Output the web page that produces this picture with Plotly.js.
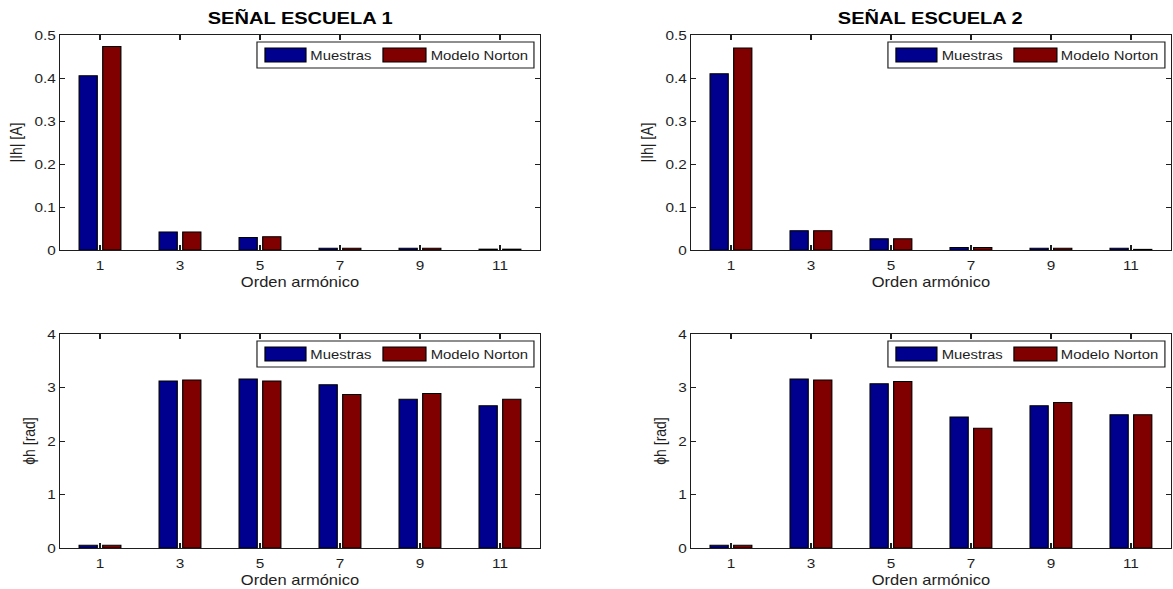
<!DOCTYPE html>
<html>
<head>
<meta charset="utf-8">
<script src="https://cdn.plot.ly/plotly-3.0.1.min.js"></script>
<style>
  html, body { margin: 0; padding: 0; background: #fff; overflow: hidden; }
  #wrap { width: 1173px; height: 589px; overflow: hidden; }
  #chart { transform-origin: 0 0; }
</style>
</head>
<body>
<div id="wrap"><div id="chart"></div></div>
<script>
// Harmonic orders on the x axis
const harmonics = [1, 3, 5, 7, 9, 11];
const tickLabels = ['1', '3', '5', '7', '9', '11'];

// Escuela 1: harmonic current magnitude |Ih| [A]
const mag1Muestras = [0.405, 0.042, 0.029, 0.004, 0.004, 0.002];
const mag1Norton   = [0.473, 0.042, 0.031, 0.004, 0.004, 0.002];
// Escuela 2: harmonic current magnitude |Ih| [A]
const mag2Muestras = [0.410, 0.045, 0.026, 0.006, 0.004, 0.004];
const mag2Norton   = [0.470, 0.045, 0.026, 0.006, 0.004, 0.0015];

// Escuela 1: harmonic phase angle [rad]
const fase1Muestras = [0.05, 3.12, 3.16, 3.05, 2.78, 2.66];
const fase1Norton   = [0.05, 3.14, 3.12, 2.87, 2.89, 2.78];
// Escuela 2: harmonic phase angle [rad]
const fase2Muestras = [0.05, 3.16, 3.07, 2.45, 2.66, 2.49];
const fase2Norton   = [0.05, 3.14, 3.11, 2.24, 2.72, 2.49];

const seriesNames = ['Muestras', 'Modelo Norton'];
const panelTitles = ['SEÑAL ESCUELA 1', 'SEÑAL ESCUELA 2'];
const yTitles = ['|Ih| [A]', 'ϕh [rad]'];
const xTitle = 'Orden armónico';

// Styling
const BLUE = '#00008f';
const RED = '#800000';
const INK = '#1e1e1e';
const FONT = 'Liberation Sans, Arial, Helvetica, sans-serif';

// The figure is laid out at a narrower width and stretched horizontally.
const FW = 1173, FH = 589, SX = 1.18;
const W0 = FW / SX;
const px = v => v / FW;          // pixel x -> paper fraction
const py = v => 1 - v / FH;      // pixel y -> paper fraction

// Axes boxes in figure pixels
const panels = [
  { x0: 60,  x1: 540,  y0: 35,  y1: 250, ax: '',  ymax: 0.5, dtick: 0.1, a: mag1Muestras,  b: mag1Norton,  yt: 0 },
  { x0: 691, x1: 1171, y0: 35,  y1: 250, ax: '2', ymax: 0.5, dtick: 0.1, a: mag2Muestras,  b: mag2Norton,  yt: 0 },
  { x0: 60,  x1: 540,  y0: 334, y1: 548, ax: '3', ymax: 4,   dtick: 1,   a: fase1Muestras, b: fase1Norton, yt: 1 },
  { x0: 691, x1: 1171, y0: 334, y1: 548, ax: '4', ymax: 4,   dtick: 1,   a: fase2Muestras, b: fase2Norton, yt: 1 }
];

const traces = [];
const layout = {
  width: W0, height: FH,
  margin: { l: 0, r: 0, t: 0, b: 0 },
  paper_bgcolor: '#fff', plot_bgcolor: '#fff',
  barmode: 'group', bargap: 0.41, bargroupgap: 0.23,
  showlegend: false,
  font: { family: FONT, size: 13, color: INK },
  shapes: [], annotations: []
};

panels.forEach((p, i) => {
  const xa = 'x' + p.ax, ya = 'y' + p.ax;
  const xk = 'xaxis' + p.ax, yk = 'yaxis' + p.ax;
  [[p.a, BLUE, seriesNames[0]], [p.b, RED, seriesNames[1]]].forEach(([vals, col, name]) => {
    traces.push({
      type: 'bar', x: harmonics, y: vals, name: name,
      xaxis: xa, yaxis: ya,
      marker: { color: col, line: { color: '#000', width: 1 } },
      hoverinfo: 'x+y+name'
    });
  });
  const common = {
    showline: true, linecolor: INK, linewidth: 1, mirror: 'ticks',
    ticks: 'inside', tickcolor: INK, tickwidth: 1,
    showgrid: false, zeroline: false, fixedrange: true,
    tickfont: { family: FONT, size: 13, color: INK }
  };
  layout[xk] = Object.assign({}, common, {
    domain: [px(p.x0), px(p.x1)], anchor: ya,
    range: [0, 12], tickmode: 'array', tickvals: harmonics, ticktext: tickLabels,
    ticklen: 5, ticklabelstandoff: 3,
    title: { text: xTitle, font: { family: FONT, size: 14, color: INK }, standoff: 5 }
  });
  layout[yk] = Object.assign({}, common, {
    domain: [py(p.y1), py(p.y0)], anchor: xa,
    range: [0, p.ymax], dtick: p.dtick, tick0: 0,
    ticklen: 4.3,
    title: { text: yTitles[p.yt], font: { family: FONT, size: 14, color: INK }, standoff: 6 }
  });

  // Legend box in the upper right corner of each axes
  const lr = p.x1 - 6, ll = lr - 277, lt = p.y0 + 7, lb = lt + 26;
  layout.shapes.push({ type: 'rect', xref: 'paper', yref: 'paper',
    x0: px(ll), x1: px(lr), y0: py(lb), y1: py(lt),
    line: { color: INK, width: 1 }, fillcolor: '#fff' });
  layout.shapes.push({ type: 'rect', xref: 'paper', yref: 'paper',
    x0: px(ll + 8), x1: px(ll + 49), y0: py(lt + 20), y1: py(lt + 6),
    line: { color: '#000', width: 1 }, fillcolor: BLUE });
  layout.shapes.push({ type: 'rect', xref: 'paper', yref: 'paper',
    x0: px(ll + 126), x1: px(ll + 169), y0: py(lt + 20), y1: py(lt + 6),
    line: { color: '#000', width: 1 }, fillcolor: RED });
  layout.annotations.push({ xref: 'paper', yref: 'paper', x: px(ll + 51), y: py(lt + 13.5),
    xanchor: 'left', yanchor: 'middle', showarrow: false, text: seriesNames[0],
    font: { family: FONT, size: 12.6, color: INK } });
  layout.annotations.push({ xref: 'paper', yref: 'paper', x: px(ll + 171), y: py(lt + 13.5),
    xanchor: 'left', yanchor: 'middle', showarrow: false, text: seriesNames[1],
    font: { family: FONT, size: 12.6, color: INK } });

  // Panel titles above the magnitude plots
  if (i < 2) {
    layout.annotations.push({ xref: 'paper', yref: 'paper',
      x: px((p.x0 + p.x1) / 2), y: py(18), xanchor: 'center', yanchor: 'middle',
      showarrow: false, text: '<b>' + panelTitles[i] + '</b>',
      font: { family: FONT, size: 17, color: '#000' } });
  }
});

const el = document.getElementById('chart');
el.style.transform = 'scaleX(' + SX + ')';
Plotly.newPlot(el, traces, layout, { displayModeBar: false, staticPlot: false, responsive: false });
</script>
</body>
</html>
